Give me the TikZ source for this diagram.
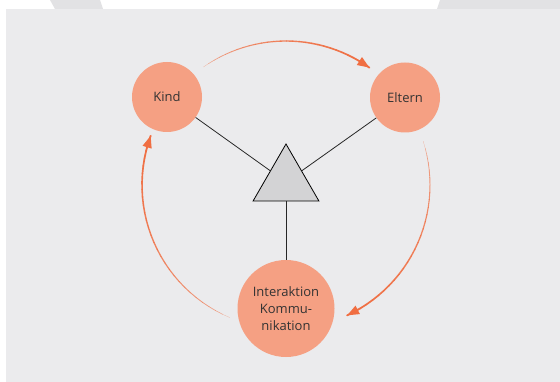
\documentclass[tikz,border=0pt]{standalone}
\usepackage{fontspec}
\setmainfont{Open Sans}
\usetikzlibrary{arrows.meta,shapes.geometric}

\definecolor{pagebg}{HTML}{EBEBED}
\definecolor{tabgray}{HTML}{E2E2E4}
\definecolor{bubble}{HTML}{F5A083}
\definecolor{flow}{HTML}{F06E42}
\definecolor{ink}{HTML}{333333}
\definecolor{wedge}{HTML}{D3D3D5}

\tikzset{
  bubblenode/.style={circle, fill=bubble, inner sep=0pt, text=ink,
    font=\fontsize{13}{17}\selectfont, align=center},
  wedgenode/.style={regular polygon, regular polygon sides=3, draw=black,
    fill=wedge, line width=0.8pt, inner sep=0pt, minimum size=76pt},
  link/.style={draw=black!85, line width=0.8pt},
  flowline/.style={draw=flow, line cap=round},
}

% tapered circular arrow around the centre (286,185), radius 144;
% #1 = start angle, #2 = end angle (mathematical sense, y pointing up)
\newcommand\taperflow[2]{%
  \foreach \i in {0,...,27}{%
    \pgfmathsetmacro\angA{#1+(#2-#1)*\i/28}%
    \pgfmathsetmacro\angB{#1+(#2-#1)*(\i+1)/28}%
    \pgfmathsetmacro\wd{0.25+1.55*sqrt(\i/27)}%
    \pgfmathsetmacro\op{0.45+0.55*sqrt(\i/27)}%
    \draw[flowline, line width=\wd pt, draw opacity=\op]
      ({286+144*cos(\angA)},{185-144*sin(\angA)}) --
      ({286+144*cos(\angB)},{185-144*sin(\angB)});
  }%
  \pgfmathsetmacro\angC{#2+(#1-#2)*0.06}%
  \draw[flowline, line width=1.8pt, line cap=butt,
        -{Triangle[length=12pt,width=9pt]}]
    ({286+144*cos(\angC)},{185-144*sin(\angC)}) --
    ({286+144*cos(#2)},{185-144*sin(#2)});
}

\begin{document}
\begin{tikzpicture}[x=1pt,y=-1pt]
  \useasboundingbox (0,0) rectangle (560,382);
  % page background
  \fill[white] (0,0) rectangle (560,382);
  \fill[tabgray] (50,0) -- (100,0) -- (103,9) -- (55,9) -- cycle;
  \fill[tabgray] (440,0) -- (560,0) -- (560,9) -- (437,9) -- cycle;
  \fill[pagebg] (6,9) rectangle (560,382);

  % nodes
  \node[bubblenode, minimum size=70pt] (kind) at (167,97) {Kind};
  \node[bubblenode, minimum size=70pt] (eltern) at (405,97.5) {Eltern};
  \node[bubblenode, minimum size=97pt] (inter) at (286,308.5)
    {Interaktion\\Kommu-\\nikation};
  \node[wedgenode] (tri) at (286,182) {};

  % connectors to the triangle
  \draw[link] (kind) -- (tri);
  \draw[link] (eltern) -- (tri);
  \draw[link] (tri) -- (inter);

  % circular flow arrows
  \taperflow{125}{54.6}
  \taperflow{17.7}{-64.9}
  \taperflow{247}{160}
\end{tikzpicture}
\end{document}
